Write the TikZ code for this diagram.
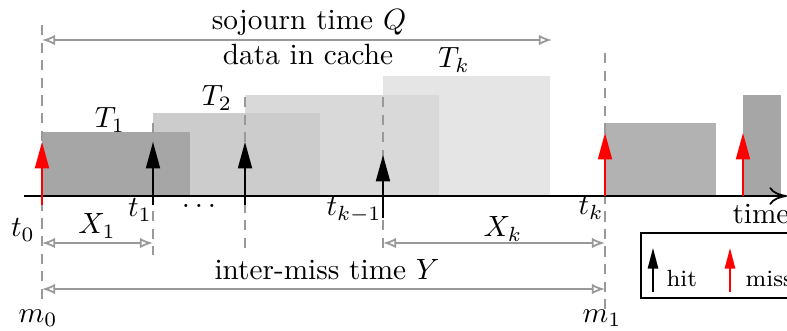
\documentclass[tikz,border=0pt]{standalone}
\usetikzlibrary{arrows.meta}

\tikzset{
  hit/.style={draw=black, semithick, -{Triangle[length=9pt,width=4.8pt]}},
  miss/.style={hit, draw=red},
  keyhit/.style={semithick, -{Triangle[length=7pt,width=3.5pt]}},
  guide/.style={draw=gray!80, semithick, dash pattern=on 3.5pt off 2.5pt},
  span/.style={draw=gray!80, semithick,
    {Latex[open,length=4.5pt,width=3.6pt]}-{Latex[open,length=4.5pt,width=3.6pt]}},
}

\begin{document}
\begin{tikzpicture}[x=0.012cm, y=-0.012cm]

  \clip (0,0) rectangle (787,330);

  \fill[gray!20] (383,76) rectangle (550,196);
  \fill[gray!30] (245,95) rectangle (439,196);
  \fill[gray!40] (153,113) rectangle (320,196);
  \fill[gray!70] (42,132) rectangle (190,196);
  \fill[gray!60] (605,123) rectangle (716,196);
  \fill[gray!70] (743,95) rectangle (781,196);

  \draw[guide] (42,25) -- (42,302);
  \draw[guide] (153,123) -- (153,255);
  \draw[guide] (245,97) -- (245,252);
  \draw[guide] (383,97) -- (383,250);
  \draw[guide] (605,53) -- (605,310);

  \coordinate (origin) at (24,196);
  \coordinate (end) at (787,196);
  \draw[semithick, -{To[length=6pt,width=6pt]}] (origin) -- (end);

  \foreach \x/\y in {42/205, 605/196, 743/196}
  {
    \draw[miss] (\x,\y) -- ++(0,-63);
  }
  \foreach \x/\y in {153/205, 245/205, 383/218}
  {
    \draw[hit] (\x,\y) -- ++(0,-63);
  }

  \coordinate (q0) at (42,40);
  \coordinate (q1) at (552,40);
  \coordinate (x0) at (42,243);
  \coordinate (x1) at (153,243);
  \coordinate (xk0) at (383,243);
  \coordinate (xk1) at (605,243);
  \coordinate (y0) at (42,289);
  \coordinate (y1) at (605,289);
  \draw[span] (q0) -- (q1);
  \draw[span] (x0) -- (x1);
  \draw[span] (xk0) -- (xk1);
  \draw[span] (y0) -- (y1);

  \node (sojourn) at (309,22) {sojourn time $Q$};
  \node (cache) at (308,54) {data in cache};
  \node (T1) at (110,120) {$T_1$};
  \node (T2) at (217,98) {$T_2$};
  \node (Tk) at (454,60) {$T_k$};

  \node (t0) at (23,230) {$t_0$};
  \node (t1) at (140,210) {$t_1$};
  \node (dots) at (199,206) {$\dots$};
  \node (tkm) at (354,210) {$t_{k-1}$};
  \node (tk) at (591,208) {$t_k$};
  \node (time) at (761,214) {time};

  \node (X1) at (97,226) {$X_1$};
  \node (Xk) at (503,229) {$X_k$};
  \node (Y) at (327,270) {inter-miss time $Y$};
  \node (m0) at (38,318) {$m_0$};
  \node (m1) at (602,318) {$m_1$};

  \draw[semithick] (641,233) rectangle (800,298);
  \draw[keyhit] (653,292) -- (653,248);
  \draw[keyhit, red] (730,292) -- (730,248);
  \node[anchor=base west, inner sep=0] (hit) at (666,286) {\footnotesize hit};
  \node[anchor=base west, inner sep=0] (miss) at (745,286) {\footnotesize miss};

\end{tikzpicture}
\end{document}
